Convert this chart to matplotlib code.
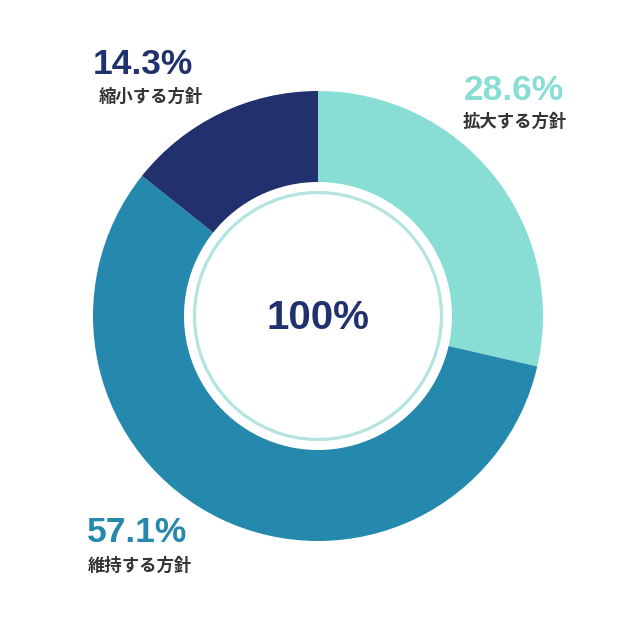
import matplotlib.pyplot as plt
from matplotlib.patches import Circle

labels = ['拡大する方針', '維持する方針', '縮小する方針']
values = [28.6, 57.1, 14.3]
colors = ['#88DDD5', '#2589AD', '#21316E']
total_label = '100%'

plt.rcParams['font.family'] = ['Liberation Sans', 'Noto Sans CJK JP', 'DejaVu Sans']

fig = plt.figure(figsize=(6.36, 6.36), dpi=100)
ax = fig.add_axes([0, 0, 1, 1])

cx, cy = 318, 636 - 316
ax.pie(values, colors=colors, startangle=90, counterclock=False,
       radius=225, center=(cx, cy),
       wedgeprops=dict(width=91, linewidth=0))

ax.add_patch(Circle((cx, cy), 123.5, fill=False, edgecolor='#B3E4E0', linewidth=2.3))

ax.text(cx, cy - 2, total_label, ha='center', va='center', fontsize=29,
        fontweight='bold', color='#21316E')

# label positions in pixel coordinates (x, y from top)
pct_pos = [(514, 91), (137, 533), (143, 65)]
name_pos = [(515, 121), (140, 565), (151, 96)]
for v, name, c, p, n in zip(values, labels, colors, pct_pos, name_pos):
    ax.text(p[0], 636 - p[1], f'{v}%', ha='center', va='center', fontsize=25.5,
            fontweight='bold', color=c)
    ax.text(n[0], 636 - n[1], name, ha='center', va='center', fontsize=12.5,
            fontweight='bold', color='#333333')

ax.set_xlim(0, 636)
ax.set_ylim(0, 636)
ax.set_aspect('equal')
ax.axis('off')

fig.savefig('out.png', dpi=100, facecolor='white')
